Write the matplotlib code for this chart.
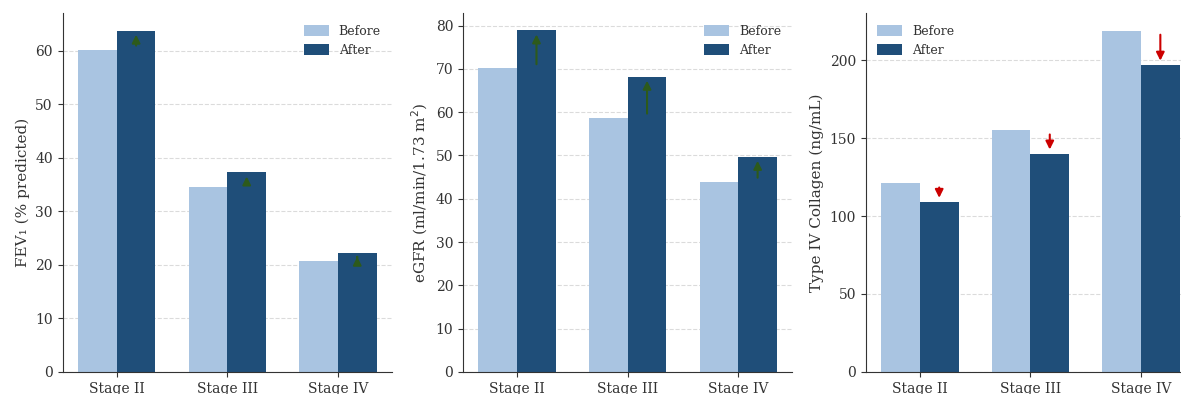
import numpy as np
import matplotlib
matplotlib.use("Agg")
import matplotlib.pyplot as plt

stages = ["Stage II", "Stage III", "Stage IV"]

fev1_before = [60.2, 34.5, 20.7]
fev1_after = [63.8, 37.3, 22.3]

egfr_before = [70.1, 58.7, 43.9]
egfr_after = [78.9, 68.2, 49.7]

col4_before = [121, 155, 219]
col4_after = [109, 140, 197]

plt.rcParams['font.family'] = ['DejaVu Serif']
plt.rcParams['text.color'] = '#333333'
plt.rcParams['axes.labelcolor'] = '#333333'
plt.rcParams['xtick.color'] = '#333333'
plt.rcParams['ytick.color'] = '#333333'

c_before = '#a9c4e1'
c_after = '#1f4e79'


def draw_panel(ax, before, after, ylabel, arrow_color, legend_loc):
    x = np.arange(len(stages))
    width = 0.35
    ax.bar(x - width / 2, before, width, color=c_before, label='Before', zorder=2)
    ax.bar(x + width / 2, after, width, color=c_after, label='After', zorder=2)

    # arrows showing the change, from before level to after level
    for i in range(len(stages)):
        ax.annotate('', xy=(x[i] + width / 2, after[i]),
                    xytext=(x[i] + width / 2, before[i]),
                    arrowprops=dict(arrowstyle='-|>', color=arrow_color, lw=1.5,
                                    mutation_scale=12, shrinkA=3, shrinkB=3),
                    zorder=3)

    ax.set_xticks(x)
    ax.set_xticklabels(stages, fontsize=10)
    ax.tick_params(axis='y', labelsize=10)
    ax.set_ylabel(ylabel, fontsize=11)
    ax.set_xlim(-0.49, 2.49)
    ax.grid(axis='y', linestyle='--', color='#cccccc', alpha=0.7, zorder=0)
    ax.set_axisbelow(True)
    for s in ['top', 'right']:
        ax.spines[s].set_visible(False)
    for s in ['left', 'bottom']:
        ax.spines[s].set_color('#333333')
    ax.legend(loc=legend_loc, frameon=False, fontsize=9, handleheight=1.0)


fig = plt.figure(figsize=(11.81, 3.94), dpi=100)
ax1 = fig.add_axes([0.053, 0.056, 0.279, 0.91])
ax2 = fig.add_axes([0.392, 0.056, 0.279, 0.91])
ax3 = fig.add_axes([0.733, 0.056, 0.279, 0.91])

draw_panel(ax1, fev1_before, fev1_after, 'FEV₁ (% predicted)', '#2d5a1b', 'upper right')
draw_panel(ax2, egfr_before, egfr_after, 'eGFR (ml/min/1.73 m$^2$)', '#2d5a1b', 'upper right')
draw_panel(ax3, col4_before, col4_after, 'Type IV Collagen (ng/mL)', '#cc0000', 'upper left')

ax1.set_ylim(0, 67)
ax2.set_ylim(0, 82.8)
ax3.set_ylim(0, 230)
ax2.set_yticks(np.arange(0, 81, 10))
ax3.set_yticks([0, 50, 100, 150, 200])

fig.savefig('out.png', dpi=100)
